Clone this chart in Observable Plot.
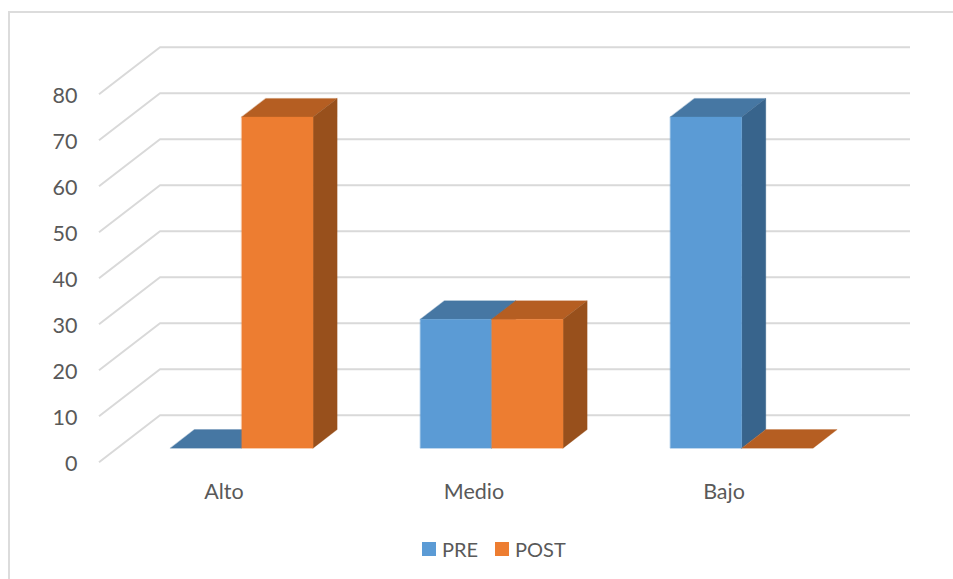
<!DOCTYPE html>
<html>
<head>
<meta charset="utf-8">
<script src="https://cdn.jsdelivr.net/npm/d3@7"></script>
<script src="https://cdn.jsdelivr.net/npm/@observablehq/plot@0.6"></script>
<style>
  html, body { margin: 0; padding: 0; background: #fff; overflow: hidden; width: 953px; height: 579px; }
  #frame { position: absolute; left: 8px; top: 11px; width: 2000px; height: 2000px;
           border-top: 2px solid #dcdcdc; border-left: 2px solid #dcdcdc; }
  #chart { position: absolute; left: 0; top: 0; }
  #legend { position: absolute; left: 422px; top: 533px; display: flex; align-items: center; height: 32px;
            font: 20px Lato, sans-serif; color: #595959; }
  #legend i { display: inline-block; width: 14px; height: 14px; margin-right: 6px; }
  #legend span { margin-right: 17px; }
</style>
</head>
<body>
<div id="frame"></div>
<div id="chart"></div>
<div id="legend"></div>
<script>
const categories = ["Alto", "Medio", "Bajo"];
const preValues = [0, 28, 72];
const postValues = [72, 28, 0];
const yTicks = [0, 10, 20, 30, 40, 50, 60, 70, 80];
const seriesNames = ["PRE", "POST"];

const frontColors = {PRE: "#5b9bd5", POST: "#ed7d31"};
const topColors = {PRE: "#4677a3", POST: "#b55e22"};
const sideColors = {PRE: "#38648c", POST: "#98501c"};

// Oblique projection: depth z (0 = front of floor, 1 = back wall) shifts along both data axes.
const depthX = 0.244;
const depthY = 10.2;
const barWidth = 0.2855;
const barFront = 0.29;
const barBack = 0.685;
const barLift = 0.1;
const px = (x, z) => x + z * depthX;
const py = (y, z) => y + z * depthY;

const gridRows = yTicks.flatMap((v) => [
  {id: v, x: px(-0.5, 0), y: py(v, 0)},
  {id: v, x: px(-0.5, 1), y: py(v, 1)},
  {id: v, x: px(2.5, 1), y: py(v, 1)}
]);

const bars = categories.flatMap((c, i) => [
  {id: c + "PRE", series: "PRE", x1: i - barWidth, x2: i, value: preValues[i]},
  {id: c + "POST", series: "POST", x1: i, x2: i + barWidth, value: postValues[i]}
]);

const poly = (b, face, pts) => pts.map(([x, y, z]) => ({id: b.id + face, series: b.series, face, x: px(x, z), y: py(y, z) + barLift}));
const faces = bars.flatMap((b) => {
  const out = [];
  out.push(...poly(b, "top", [[b.x1, b.value, barFront], [b.x2, b.value, barFront], [b.x2, b.value, barBack], [b.x1, b.value, barBack]]));
  if (b.value > 0) {
    out.push(...poly(b, "side", [[b.x2, 0, barFront], [b.x2, 0, barBack], [b.x2, b.value, barBack], [b.x2, b.value, barFront]]));
    out.push(...poly(b, "front", [[b.x1, 0, barFront], [b.x2, 0, barFront], [b.x2, b.value, barFront], [b.x1, b.value, barFront]]));
  }
  return out;
});
const faceFill = (d) => (d.face === "top" ? topColors : d.face === "side" ? sideColors : frontColors)[d.series];

const font = 'Lato, sans-serif';
const chart = Plot.plot({
  width: 953,
  height: 530,
  marginLeft: 77,
  marginRight: 0,
  marginTop: 0,
  marginBottom: 47,
  style: {background: "transparent", fontFamily: font, color: "#595959"},
  x: {type: "linear", domain: [0, 2], range: [223.5, 723.5]},
  y: {type: "linear", domain: [0, 80], range: [461.7, 93.7]},
  marks: [
    Plot.line(gridRows, {x: "x", y: "y", z: "id", stroke: "#d9d9d9", strokeWidth: 2, strokeLinecap: "butt", curve: "linear"}),
    Plot.line(faces, {x: "x", y: "y", z: "id", fill: faceFill, stroke: faceFill, strokeWidth: 0.3, curve: "linear-closed"}),
    Plot.axisY({ticks: yTicks, tickSize: 0, tickPadding: 0, label: null, fontSize: 21.5, fill: "#595959", dy: 2}),
    Plot.axisX({ticks: [0, 1, 2], tickFormat: (i) => categories[i], tickSize: 0, tickPadding: 0, label: null, fontSize: 21.5, fill: "#595959"})
  ]
});
document.getElementById("chart").append(chart);

const legend = document.getElementById("legend");
seriesNames.forEach((name) => {
  const sw = document.createElement("i");
  sw.style.background = frontColors[name];
  const label = document.createElement("span");
  label.textContent = name;
  legend.append(sw, label);
});
</script>
</body>
</html>
